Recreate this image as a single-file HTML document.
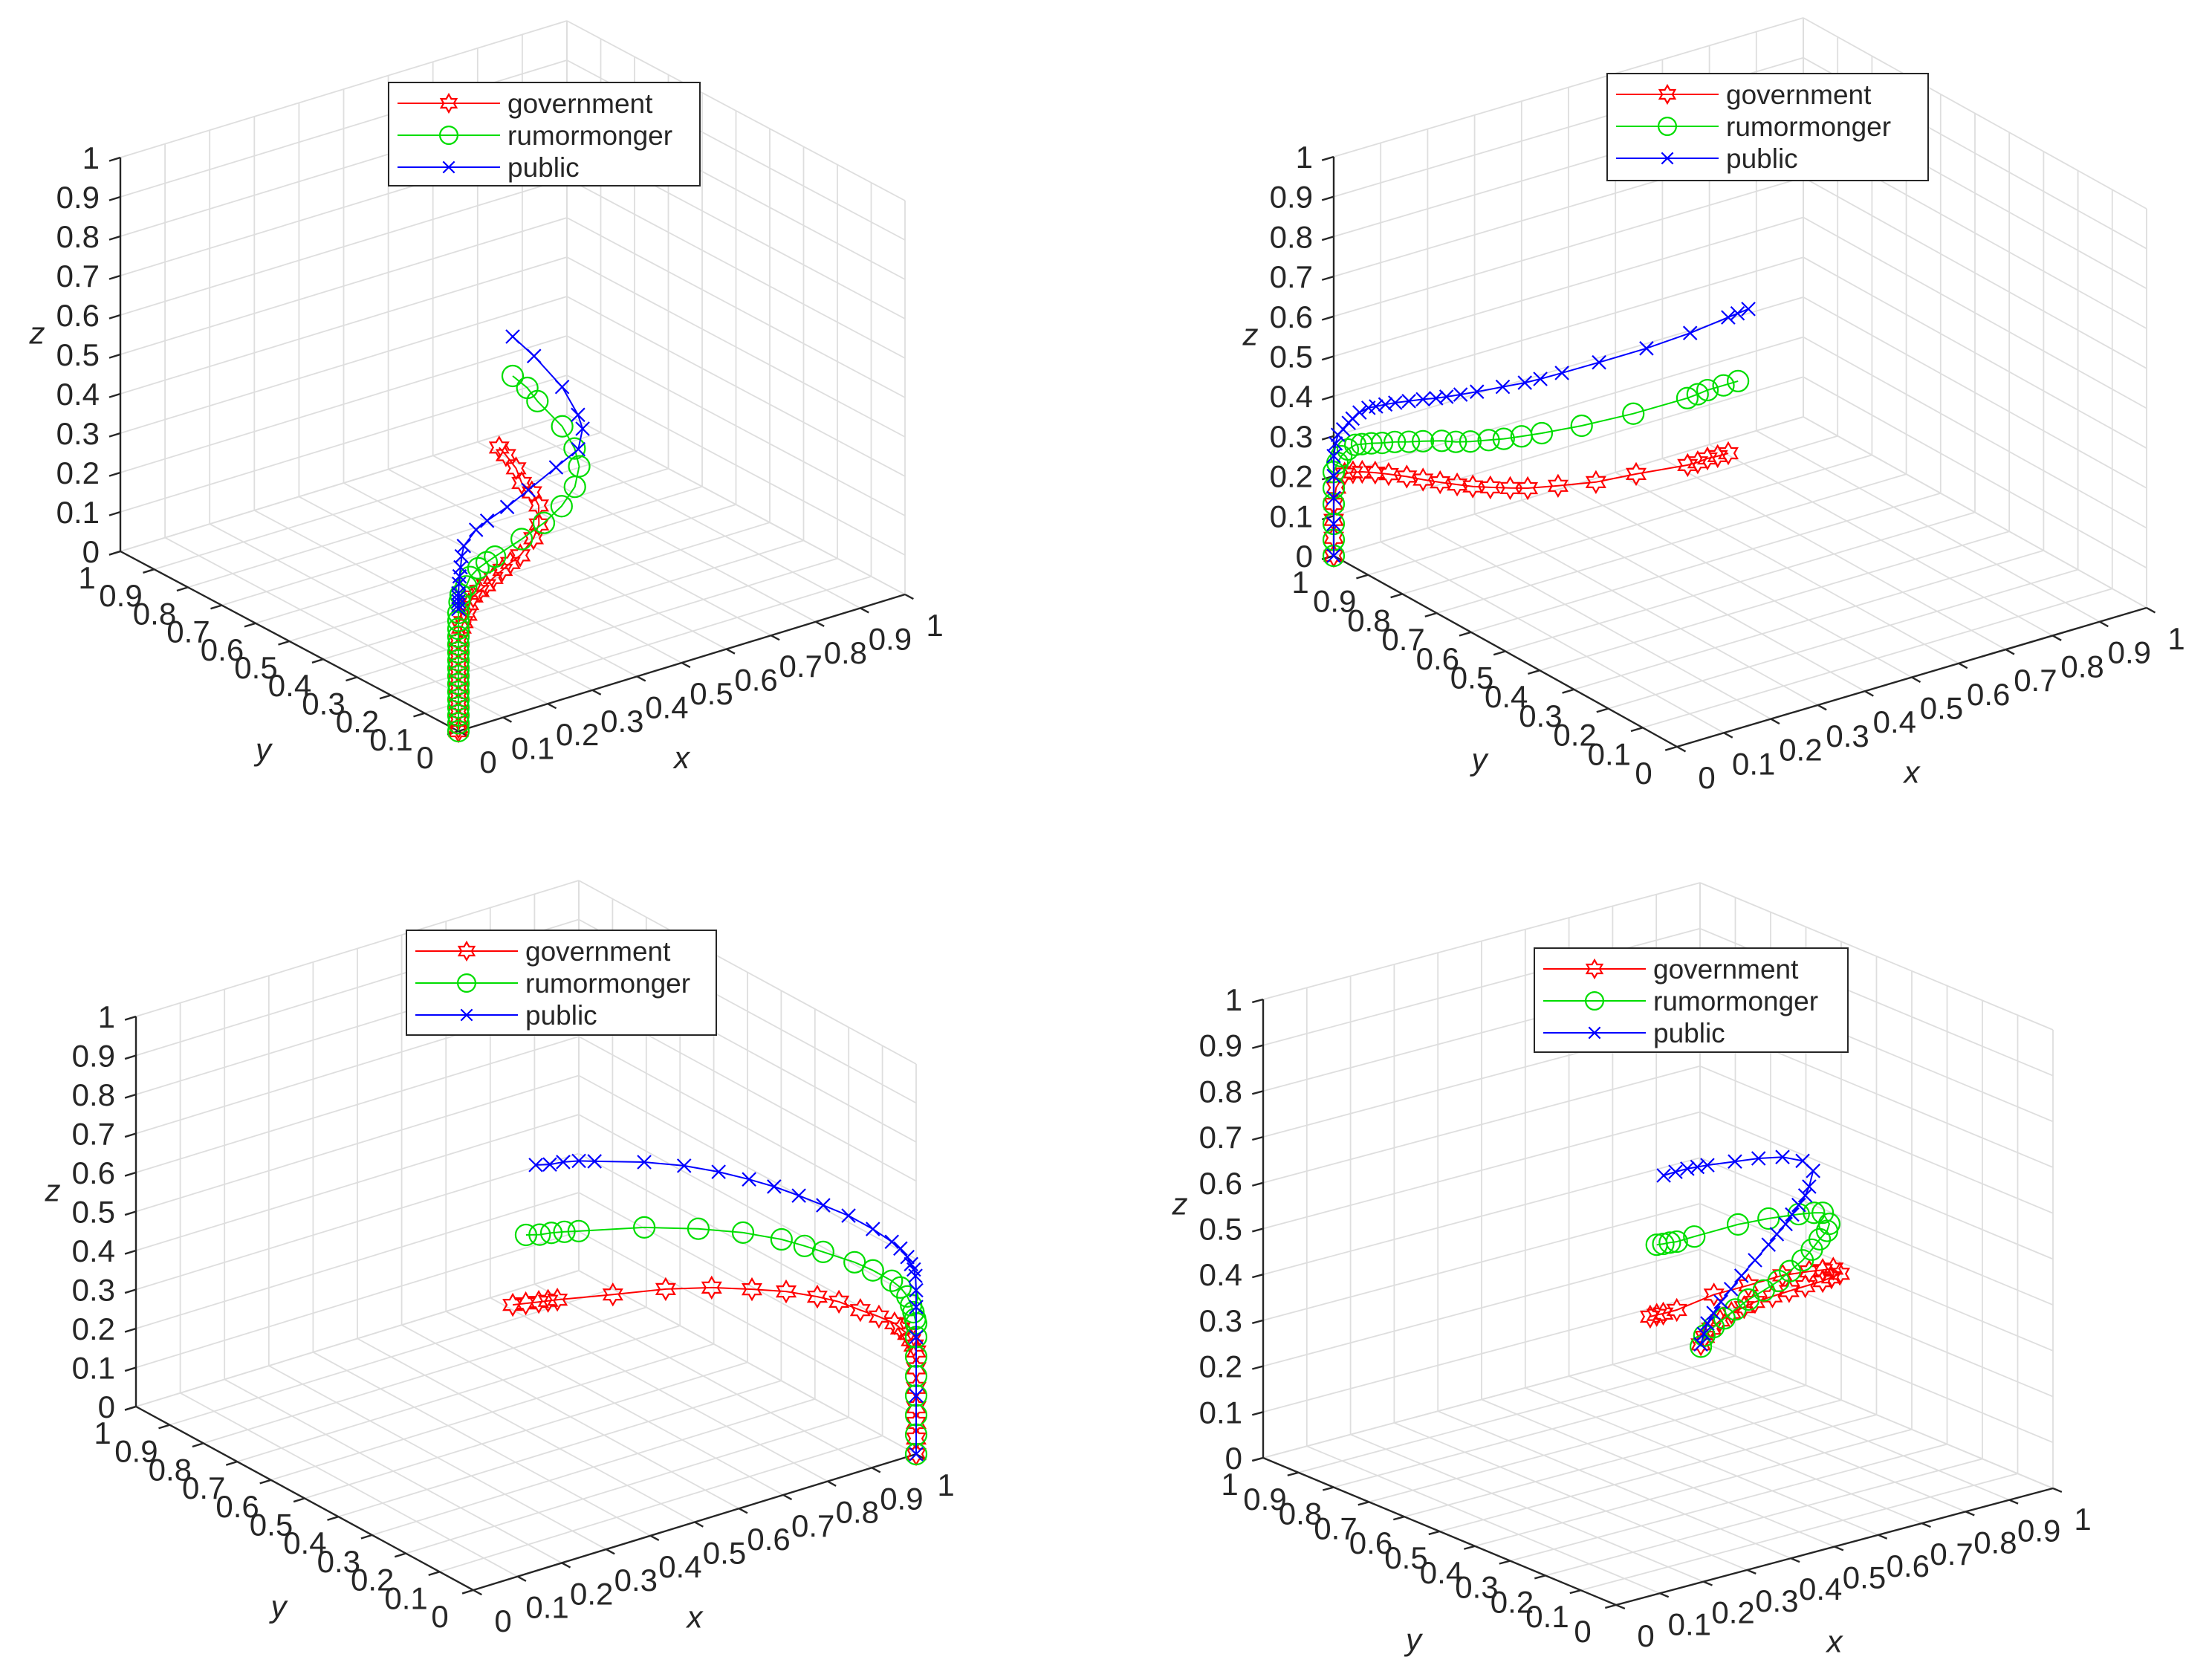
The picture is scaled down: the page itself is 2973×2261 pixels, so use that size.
<!DOCTYPE html>
<html><head><meta charset="utf-8"><title>3D evolution trajectories</title>
<style>
html,body{margin:0;padding:0;background:#fff;}
svg{display:block;}
text{font-family:"Liberation Sans",Arial,sans-serif;fill:#262626;}
</style></head>
<body>
<svg id="fig" width="2973" height="2261" viewBox="0 0 2973 2261" xmlns="http://www.w3.org/2000/svg"></svg>
<script>
// ---- data: panel top-left ----
const tl_gov_x=[.50,.50,.50,.49,.49,.475,.43,.38,.305,.26,.22,.18,.145,.115,.086,.065,.05,.03,.018,0,0,0,0,0,0,0,0,0,0,0,0,0];
const tl_gov_y=[.54,.52,.49,.46,.43,.39,.33,.28,.22,.19,.16,.135,.11,.09,.07,.055,.04,.025,.015,0,0,0,0,0,0,0,0,0,0,0,0,0];
const tl_gov_z=[.30,.29,.27,.25,.24,.23,.225,.23,.24,.25,.26,.265,.27,.275,.28,.275,.26,.255,.25,.23,.21,.19,.17,.15,.13,.11,.09,.07,.05,.03,.01,0];
const tl_rum_x=[.50,.51,.51,.52,.51,.49,.45,.39,.32,.24,.15,.12,.09,.06,.04,.02,.01,0,0,0,0,0,0,0,0,0,0,0,0,0,0,0,0];
const tl_rum_y=[.50,.47,.44,.38,.33,.29,.25,.21,.17,.13,.09,.075,.06,.045,.03,.02,.01,0,0,0,0,0,0,0,0,0,0,0,0,0,0,0,0];
const tl_rum_z=[.50,.48,.46,.42,.39,.37,.35,.34,.34,.345,.35,.353,.355,.35,.34,.33,.32,.30,.28,.26,.24,.22,.20,.18,.16,.14,.12,.10,.08,.06,.04,.02,0];
const tl_pub_x=[.50,.51,.52,.51,.49,.45,.37,.27,.20,.14,.10,.05,.03,.02,.01,.005,0,0,0,0,0];
const tl_pub_y=[.50,.45,.38,.32,.28,.24,.20,.15,.12,.10,.08,.05,.03,.02,.01,.005,0,0,0,0,0];
const tl_pub_z=[.60,.57,.52,.48,.47,.45,.45,.45,.445,.44,.44,.43,.42,.40,.385,.37,.35,.34,.33,.32,.31];
// ---- data: panel top-right ----
const tr_gov_x=[.694,.675,.657,.64,.622,.527,.456,.39,.34,.31,.275,.245,.219,.19,.161,.13,.095,.07,.046,.03,.016,.005,0,0,0,0];
const tr_gov_y=[.8,.805,.81,.815,.82,.84,.86,.88,.9,.91,.92,.93,.94,.95,.96,.965,.97,.975,.98,.985,.99,1,1,1,1,1];
const tr_gov_z=[.111,.108,.106,.10,.097,.098,.093,.097,.099,.105,.114,.122,.131,.142,.154,.17,.186,.196,.204,.206,.205,.169,.13,.09,.045,0];
const tr_rum_x=[.861,.83,.796,.775,.753,.638,.528,.443,.40,.362,.33,.291,.26,.23,.19,.16,.13,.103,.08,.06,.046,.03,.016,.008,0,0,0,0,0,0];
const tr_rum_y=[1,1,1,1,1,1,1,1,1,1,1,1,1,1,1,1,1,1,1,1,1,1,1,1,1,1,1,1,1,1];
const tr_rum_z=[.138,.138,.138,.135,.133,.134,.142,.153,.16,.167,.175,.185,.195,.208,.221,.23,.24,.247,.254,.259,.262,.256,.244,.23,.21,.17,.13,.08,.04,0];
const tr_pub_x=[.883,.86,.84,.759,.666,.565,.486,.44,.407,.36,.305,.27,.24,.218,.19,.16,.131,.11,.09,.074,.055,.04,.032,.02,.009,.004,0,0,0,0,0];
const tr_pub_y=[1,1,1,1,1,1,1,1,1,1,1,1,1,1,1,1,1,1,1,1,1,1,1,1,1,1,1,1,1,1,1];
const tr_pub_z=[.311,.308,.305,.294,.288,.288,.289,.29,.292,.298,.305,.31,.315,.319,.326,.332,.338,.341,.343,.345,.34,.33,.322,.31,.30,.28,.25,.2,.145,.08,0];
// ---- data: panel bottom-left ----
const bl_gov_x=[.7,.705,.71,.715,.72,.76,.8,.83,.86,.89,.92,.94,.96,.98,.99,.995,1,1,1,1,1,1,1,1,1,1];
const bl_gov_y=[.802,.77,.738,.717,.696,.584,.48,.383,.303,.241,.188,.15,.113,.084,.051,.04,.026,.015,.007,0,0,0,0,0,0,0];
const bl_gov_z=[.110,.127,.144,.155,.166,.218,.267,.306,.329,.342,.343,.341,.33,.32,.315,.305,.296,.285,.275,.263,.22,.17,.12,.08,.04,0];
const bl_rum_x=[.8,.805,.81,.815,.82,.85,.88,.9,.92,.94,.95,.97,.98,.99,.995,1,1,1,1,1,1,1,1,1,1,1,1];
const bl_rum_y=[.894,.86,.832,.8,.764,.609,.488,.382,.294,.252,.21,.143,.102,.059,.04,.026,.015,.008,.003,0,0,0,0,0,0,0,0];
const bl_rum_z=[.211,.226,.242,.258,.275,.347,.39,.423,.44,.436,.437,.435,.43,.42,.41,.392,.375,.36,.345,.335,.3,.25,.2,.15,.1,.05,0];
const bl_pub_x=[.8,.805,.81,.815,.82,.84,.86,.88,.9,.92,.94,.96,.97,.98,.99,.995,1,1,1,1,1,1,1,1,1];
const bl_pub_y=[.865,.83,.797,.757,.717,.596,.504,.428,.364,.316,.269,.223,.161,.102,.059,.04,.026,.015,.007,.002,0,0,0,0,0];
const bl_pub_z=[.404,.42,.44,.46,.476,.524,.551,.564,.568,.565,.557,.547,.546,.536,.52,.51,.493,.48,.47,.456,.42,.377,.3,.15,0];
// ---- data: panel bottom-right ----
const br_gov_x=[.385,.40,.415,.446,.531,.61,.688,.749,.78,.804,.819,.80,.78,.74,.703,.665,.625,.6,.571,.545,.525,.51,.501];
const br_gov_y=[.38,.38,.38,.38,.38,.38,.38,.38,.38,.38,.38,.38,.38,.38,.38,.38,.38,.38,.38,.38,.38,.38,.38];
const br_gov_z=[.409,.409,.408,.408,.42,.42,.422,.415,.41,.407,.392,.389,.386,.385,.384,.382,.38,.375,.37,.36,.347,.333,.319];
const br_rum_x=[.40,.415,.43,.446,.486,.586,.656,.725,.76,.78,.795,.79,.773,.755,.734,.705,.679,.645,.61,.58,.555,.53,.509,.501];
const br_rum_y=[.38,.38,.38,.38,.38,.38,.38,.38,.38,.38,.38,.38,.38,.38,.38,.38,.38,.38,.38,.38,.38,.38,.38,.38];
const br_rum_z=[.562,.56,.559,.557,.558,.559,.554,.546,.54,.535,.507,.493,.479,.461,.443,.427,.412,.40,.389,.375,.362,.349,.336,.314];
const br_pub_x=[.416,.443,.47,.493,.516,.579,.633,.688,.734,.758,.749,.74,.725,.71,.695,.675,.656,.625,.594,.57,.547,.53,.516,.508,.501];
const br_pub_y=[.38,.38,.38,.38,.38,.38,.38,.38,.38,.38,.38,.38,.38,.38,.38,.38,.38,.38,.38,.38,.38,.38,.38,.38,.38];
const br_pub_z=[.709,.71,.71,.708,.706,.698,.691,.68,.66,.632,.6,.583,.566,.549,.532,.515,.497,.471,.445,.422,.40,.38,.361,.34,.319];

const tickValues=[0,.1,.2,.3,.4,.5,.6,.7,.8,.9,1];
const tickLabels=["0","0.1","0.2","0.3","0.4","0.5","0.6","0.7","0.8","0.9","1"];
const seriesNames=["government","rumormonger","public"];

const NS="http://www.w3.org/2000/svg";
const svg=document.getElementById('fig');
function mk(tag,attrs,parent){const e=document.createElementNS(NS,tag);for(const k in attrs)e.setAttribute(k,attrs[k]);(parent||svg).appendChild(e);return e;}

const panels=[
 {id:'tl',O:[617,984],ex:[601,-184],ey:[-455,-242],ez:[0,-530],leg:[523,111,419,139],
  d:[[tl_gov_x,tl_gov_y,tl_gov_z],[tl_rum_x,tl_rum_y,tl_rum_z],[tl_pub_x,tl_pub_y,tl_pub_z]]},
 {id:'tr',O:[2257,1005],ex:[632,-187],ey:[-462,-257],ez:[0,-537],leg:[2163,99,432,144],
  d:[[tr_gov_x,tr_gov_y,tr_gov_z],[tr_rum_x,tr_rum_y,tr_rum_z],[tr_pub_x,tr_pub_y,tr_pub_z]]},
 {id:'bl',O:[637,2140],ex:[596,-183],ey:[-454,-247],ez:[0,-525],leg:[547,1252,417,141],
  d:[[bl_gov_x,bl_gov_y,bl_gov_z],[bl_rum_x,bl_rum_y,bl_rum_z],[bl_pub_x,bl_pub_y,bl_pub_z]]},
 {id:'br',O:[2175,2160],ex:[588,-157],ey:[-475,-198],ez:[0,-617],leg:[2065,1276,422,140],
  d:[[br_gov_x,br_gov_y,br_gov_z],[br_rum_x,br_rum_y,br_rum_z],[br_pub_x,br_pub_y,br_pub_z]]}
];
const colors=['#ff0000','#00dd00','#0000ff'];

function hexagram(g,cx,cy,R,col){
  const r=R/Math.sqrt(3);let pts=[];
  for(let i=0;i<12;i++){const a=-Math.PI/2+i*Math.PI/6;const rr=i%2===0?R:r;pts.push((cx+rr*Math.cos(a)).toFixed(1)+','+(cy+rr*Math.sin(a)).toFixed(1));}
  return mk('polygon',{points:pts.join(' '),fill:'none',stroke:col,'stroke-width':2.2},g);
}
function marker(g,k,cx,cy,scale){
  const s=scale||1;
  if(k===0) return hexagram(g,cx,cy,14*s,colors[0]);
  if(k===1) return mk('circle',{cx:cx,cy:cy,r:14*s,fill:'none',stroke:colors[1],'stroke-width':2.2},g);
  const d=9*s;
  return mk('path',{d:`M${cx-d},${cy-d}L${cx+d},${cy+d}M${cx-d},${cy+d}L${cx+d},${cy-d}`,stroke:colors[2],'stroke-width':2.2,fill:'none'},g);
}

panels.forEach(p=>{
  const P=(x,y,z)=>[p.O[0]+x*p.ex[0]+y*p.ey[0]+z*p.ez[0], p.O[1]+x*p.ex[1]+y*p.ey[1]+z*p.ez[1]];
  const g=mk('g',{});
  
  
  const grid=mk('g',{stroke:'#dedede','stroke-width':1.8,fill:'none'},g);
  
  
  const ln=(a,b,par,attrs)=>mk('line',Object.assign({x1:a[0],y1:a[1],x2:b[0],y2:b[1]},attrs||{}),par);
  tickValues.forEach(t=>{
    ln(P(t,0,0),P(t,1,0),grid); ln(P(0,t,0),P(1,t,0),grid);
    ln(P(t,1,0),P(t,1,1),grid); ln(P(0,1,t),P(1,1,t),grid);
    ln(P(1,t,0),P(1,t,1),grid); ln(P(1,0,t),P(1,1,t),grid);
  });
  const ax=mk('g',{stroke:'#262626','stroke-width':2.4,fill:'none'},g);
  const zAx=ln(P(0,1,0),P(0,1,1),ax);
   
  const yAx=ln(P(0,1,0),P(0,0,0),ax);
   
  const xAx=ln(P(0,0,0),P(1,0,0),ax);
   
  const labs=mk('g',{'font-size':42},g);
  tickValues.forEach((t,i)=>{
    ln(P(0,1,t),P(-0.025,1,t),ax); ln(P(0,t,0),P(-0.025,t,0),ax); ln(P(t,0,0),P(t,-0.025,0),ax);
    let a=P(0,1,t);
    const tz=mk('text',{x:a[0]-28,y:a[1]+15,'text-anchor':'end'},labs); tz.textContent=tickLabels[i];
     
    a=P(0,t,0);
    const ty=mk('text',{x:a[0]-45,y:a[1]+50,'text-anchor':'middle'},labs); ty.textContent=tickLabels[i];
     
    a=P(t,0,0);
    const tx=mk('text',{x:a[0]+40,y:a[1]+56,'text-anchor':'middle'},labs); tx.textContent=tickLabels[i];
     
  });
  let a=P(0,1,0.55);
  const zt=mk('text',{x:a[0]-112,y:a[1]+12,'font-size':42,'font-style':'italic','font-family':'Liberation Serif, serif','text-anchor':'middle'},g); zt.textContent='z';
   
  a=P(0,0.5,0);
  const yt=mk('text',{x:a[0]-35,y:a[1]+160,'font-size':42,'font-style':'italic','font-family':'Liberation Serif, serif','text-anchor':'middle'},g); yt.textContent='y';
   
  a=P(0.5,0,0);
  const xt=mk('text',{x:a[0],y:a[1]+142,'font-size':42,'font-style':'italic','font-family':'Liberation Serif, serif','text-anchor':'middle'},g); xt.textContent='x';
   
  p.d.forEach((s,k)=>{
    const sg=mk('g',{},g);
    
    
    const pts=s[0].map((xv,i)=>P(xv,s[1][i],s[2][i]));
    mk('polyline',{points:pts.map(q=>q[0].toFixed(1)+','+q[1].toFixed(1)).join(' '),fill:'none',stroke:colors[k],'stroke-width':2},sg);
    pts.forEach(q=>marker(sg,k,q[0],q[1]));
  });
  const L=p.leg;
  const lg=mk('g',{},g);
  
  
  mk('rect',{x:L[0],y:L[1],width:L[2],height:L[3],fill:'#fff',stroke:'#262626','stroke-width':2},lg);
  seriesNames.forEach((nm,k)=>{
    const ry=L[1]+28+k*43;
    const ent=mk('g',{},lg);
    
    
    mk('line',{x1:L[0]+12,y1:ry,x2:L[0]+150,y2:ry,stroke:colors[k],'stroke-width':2},ent);
    marker(ent,k,L[0]+81,ry,0.85);
    const t=mk('text',{x:L[0]+160,y:ry+13,'font-size':37,fill:'#000'},ent); t.textContent=nm;
  });
});
</script>
</body></html>
